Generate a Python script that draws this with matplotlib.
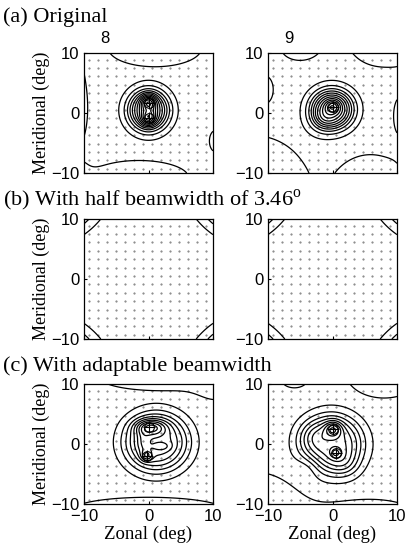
import numpy as np
import matplotlib
matplotlib.use("Agg")
import matplotlib.pyplot as plt

plt.rcParams["mathtext.fontset"] = "custom"
plt.rcParams["mathtext.rm"] = "Liberation Serif"

SERIF = "Liberation Serif"
SANS = "Liberation Sans"

# ─── Data ────────────────────────────────────────────────────────────────────
# Field components: (x0, y0, amplitude, sigma_x, sigma_y, shape exponent), deg
orig8_main = [(0.0, 0.45, 0.7, 2.4, 2.6, 3), (0.0, 1.7, 0.45, 0.8, 0.9, 2),
              (0.0, -0.8, 0.42, 0.8, 0.9, 2)]
orig8_edge = [(1.0, 10.8, 0.085, 7.0, 3.0, 2), (-1.5, -10.8, 0.085, 7.5, 2.8, 2),
              (-10.5, 0.8, 0.07, 1.3, 6.0, 2), (10.5, -4.5, 0.07, 1.2, 2.0, 2)]
orig8_peaks_x = [0.0, 0.0]
orig8_peaks_y = [1.7, -0.8]

orig9_main = [(-0.1, 0.6, 0.75, 2.5, 2.5, 3), (0.0, 1.0, 0.35, 0.8, 0.8, 2),
              (-1.6, -1.2, 0.15, 1.4, 1.4, 2)]
orig9_edge = [(-5.2, 11.0, 0.08, 2.8, 2.2, 2), (8.0, 12.0, 0.09, 5.0, 4.0, 2),
              (-10.5, 4.0, 0.07, 1.5, 2.5, 2), (10.5, -0.5, 0.07, 1.2, 3.3, 2),
              (-12.0, -12.0, 0.15, 5.5, 5.5, 2), (6.0, -12.0, 0.12, 4.0, 3.8, 2)]
orig9_peaks_x = [0.0]
orig9_peaks_y = [1.0]

half_edge = [(-18.0, 18.0, 12.4, 4.0, 4.0, 2), (18.0, 18.0, 12.4, 4.0, 4.0, 2),
             (-18.0, -18.0, 12.4, 4.0, 4.0, 2), (18.0, -18.0, 12.4, 4.0, 4.0, 2)]

adapt8_main = [(1.2, 0.3, 0.6, 3.9, 3.8, 3), (0.3, 2.8, 0.4, 1.6, 0.9, 2),
               (-0.3, -2.0, 0.25, 0.6, 0.6, 2), (-0.8, 0.3, 0.12, 0.7, 1.5, 2),
               (2.0, -0.4, 0.12, 1.0, 0.5, 2)]
adapt8_edge = [(2.0, 11.0, 0.1, 8.0, 1.8, 2), (10.5, 9.5, 0.06, 2.5, 2.5, 2),
               (0.0, -11.0, 0.1, 10.0, 1.8, 2)]
adapt8_peaks_x = [0.0, -0.3]
adapt8_peaks_y = [2.8, -2.0]

adapt9_main = [(-0.2, 0.0, 0.6, 3.8, 3.8, 3), (0.1, 2.5, 0.35, 0.9, 0.9, 2),
               (0.5, -1.5, 0.2, 0.6, 0.6, 2), (2.0, -3.5, 0.12, 1.5, 1.5, 2),
               (-3.0, 1.5, 0.1, 1.5, 1.5, 2), (-3.5, -3.5, -0.12, 1.5, 1.5, 2)]
adapt9_edge = [(-6.0, 10.6, 0.08, 1.8, 1.2, 2), (8.0, 12.0, 0.09, 5.5, 4.0, 2),
               (-12.0, -12.0, 0.12, 5.5, 5.5, 2), (6.0, -12.5, 0.09, 7.0, 3.0, 2)]
adapt9_peaks_x = [0.1, 0.5]
adapt9_peaks_y = [2.5, -1.5]

orig_levels = [0.02, 0.1, 0.2, 0.3, 0.4, 0.5, 0.6, 0.7, 0.8, 0.9, 1.0, 1.1]
half_levels = [0.05, 0.15]
adapt_levels = [0.05, 0.15, 0.25, 0.35, 0.45, 0.55, 0.65, 0.75, 0.85, 0.95]
edge_levels = [0.05]

beam_step = 1.4     # spacing of the beam-position dots (deg)

# ─── Helpers ─────────────────────────────────────────────────────────────────
gx = np.linspace(-10, 10, 301)
X, Y = np.meshgrid(gx, gx)


def field(comps):
    z = np.zeros_like(X)
    for x0, y0, a, sx, sy, p in comps:
        q = ((X - x0) / sx) ** 2 + ((Y - y0) / sy) ** 2
        z += a * np.exp(-0.5 * q ** (p / 2))
    return z


def draw_panel(ax, main, levels, edge, elevels, px=(), py=()):
    d = np.arange(-10 + beam_step / 2, 10, beam_step)
    DX, DY = np.meshgrid(d, d)
    ax.plot(DX.ravel(), DY.ravel(), ls="none", marker=".", ms=1.0, color="0.45")
    if main:
        ax.contour(X, Y, field(main), levels=levels, colors="black", linewidths=0.9)
    ax.contour(X, Y, field(edge), levels=elevels, colors="black", linewidths=0.9)
    if len(px):
        ax.plot(px, py, ls="none", marker="o", ms=7, mfc="none", mec="black", mew=0.8)
        ax.plot(px, py, ls="none", marker="+", ms=9, color="black", mew=0.8)
    ax.set_xlim(-10, 10)
    ax.set_ylim(-10, 10)
    ax.set_xticks([-10, 0, 10])
    ax.set_yticks([-10, 0, 10])
    ax.tick_params(direction="in", length=2, labelsize=12)
    for lab in ax.get_xticklabels() + ax.get_yticklabels():
        lab.set_family(SANS)
    for s in ax.spines.values():
        s.set_linewidth(0.9)


# ─── Figure ──────────────────────────────────────────────────────────────────
fig = plt.figure(figsize=(4.11, 5.46), dpi=100)
W, H = 411, 546
cols = [84, 268]
rows = [53, 219, 384]
aw, ah = 129, 120

panels = [
    [(orig8_main, orig_levels, orig8_edge, edge_levels, orig8_peaks_x, orig8_peaks_y),
     (orig9_main, orig_levels, orig9_edge, edge_levels, orig9_peaks_x, orig9_peaks_y)],
    [([], half_levels, half_edge, half_levels, [], []),
     ([], half_levels, half_edge, half_levels, [], [])],
    [(adapt8_main, adapt_levels, adapt8_edge, edge_levels, adapt8_peaks_x, adapt8_peaks_y),
     (adapt9_main, adapt_levels, adapt9_edge, edge_levels, adapt9_peaks_x, adapt9_peaks_y)],
]

axes = []
for r, top in enumerate(rows):
    for c, left in enumerate(cols):
        ax = fig.add_axes([left / W, 1 - (top + ah) / H, aw / W, ah / H])
        draw_panel(ax, *panels[r][c])
        if r < 2:
            ax.set_xticklabels([])
        else:
            ax.set_xlabel("Zonal (deg)", family=SERIF, fontsize=13.5, labelpad=1)
        if c == 0:
            ax.set_ylabel("Meridional (deg)", family=SERIF, fontsize=13, labelpad=1)
        axes.append(ax)

axes[0].text(0.16, 1.06, "8", transform=axes[0].transAxes, family=SANS, fontsize=12,
             ha="center", va="bottom")
axes[1].text(0.16, 1.06, "9", transform=axes[1].transAxes, family=SANS, fontsize=12,
             ha="center", va="bottom")

fig.text(3 / W, 1 - 22 / H, "(a) Original", family=SERIF, fontsize=16)
fig.text(3 / W, 1 - 205 / H, r"(b) With half beamwidth of 3.46$^{\rm o}$",
         family=SERIF, fontsize=16)
fig.text(3 / W, 1 - 371 / H, "(c) With adaptable beamwidth", family=SERIF, fontsize=16)

fig.savefig("out.png", dpi=100, facecolor="white")
